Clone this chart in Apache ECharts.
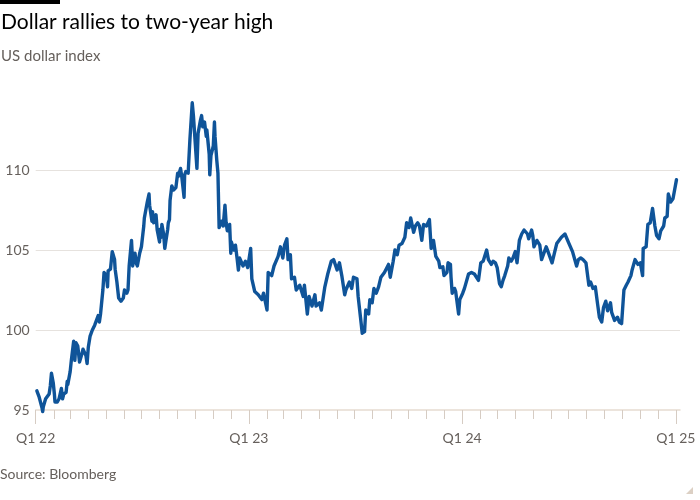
<!DOCTYPE html>
<html>
<head>
<meta charset="utf-8">
<script src="https://cdn.jsdelivr.net/npm/echarts@6/dist/echarts.min.js"></script>
<style>
html,body{margin:0;padding:0;background:#fff;}
#chart{width:700px;height:500px;}
</style>
</head>
<body>
<div id="chart"></div>
<script>
const dates = [
'2022-01-03','2022-01-05','2022-01-07','2022-01-10','2022-01-12','2022-01-13','2022-01-14','2022-01-18','2022-01-20','2022-01-24','2022-01-26','2022-01-28','2022-01-31',
'2022-02-02','2022-02-03','2022-02-07','2022-02-10','2022-02-14','2022-02-16','2022-02-18','2022-02-22','2022-02-24','2022-02-25',
'2022-03-01','2022-03-03','2022-03-07','2022-03-09','2022-03-11','2022-03-14','2022-03-17','2022-03-21','2022-03-23','2022-03-28','2022-03-30',
'2022-04-01','2022-04-04','2022-04-06','2022-04-08','2022-04-12','2022-04-14','2022-04-18','2022-04-20','2022-04-22','2022-04-26','2022-04-28',
'2022-05-02','2022-05-04','2022-05-05','2022-05-09','2022-05-12','2022-05-16','2022-05-17','2022-05-20','2022-05-23','2022-05-27','2022-05-31',
'2022-06-02','2022-06-06','2022-06-08','2022-06-10','2022-06-14','2022-06-15','2022-06-16','2022-06-20','2022-06-22','2022-06-24','2022-06-28',
'2022-07-01','2022-07-05','2022-07-06','2022-07-11','2022-07-14','2022-07-15','2022-07-19','2022-07-20','2022-07-22','2022-07-26','2022-07-28',
'2022-08-01','2022-08-02','2022-08-04','2022-08-05','2022-08-08','2022-08-10','2022-08-12','2022-08-15','2022-08-16','2022-08-18','2022-08-19','2022-08-22','2022-08-25','2022-08-29',
'2022-09-01','2022-09-02','2022-09-06','2022-09-08','2022-09-12','2022-09-13','2022-09-15','2022-09-19','2022-09-20','2022-09-22','2022-09-26','2022-09-27','2022-09-28','2022-09-30',
'2022-10-04','2022-10-06','2022-10-10','2022-10-12','2022-10-14','2022-10-17','2022-10-20','2022-10-21','2022-10-25','2022-10-26','2022-10-28',
'2022-11-01','2022-11-03','2022-11-04','2022-11-07','2022-11-09','2022-11-10','2022-11-11','2022-11-15','2022-11-18','2022-11-21','2022-11-23','2022-11-25','2022-11-29',
'2022-12-01','2022-12-02','2022-12-06','2022-12-09','2022-12-12','2022-12-14','2022-12-16','2022-12-19','2022-12-22','2022-12-26','2022-12-30',
'2023-01-04','2023-01-06','2023-01-11','2023-01-17','2023-01-23','2023-01-26','2023-02-01','2023-02-03','2023-02-09','2023-02-13','2023-02-20','2023-02-24','2023-02-28',
'2023-03-03','2023-03-07','2023-03-09','2023-03-13','2023-03-15','2023-03-20','2023-03-23','2023-03-29',
'2023-04-04','2023-04-06','2023-04-11','2023-04-14','2023-04-19','2023-04-24','2023-04-26',
'2023-05-02','2023-05-05','2023-05-11','2023-05-16','2023-05-22','2023-05-26','2023-06-01','2023-06-05','2023-06-09','2023-06-14','2023-06-16','2023-06-22','2023-06-26','2023-06-29',
'2023-07-05','2023-07-07','2023-07-11','2023-07-14','2023-07-18','2023-07-20','2023-07-25','2023-07-27','2023-07-31',
'2023-08-03','2023-08-07','2023-08-11','2023-08-15','2023-08-21','2023-08-24','2023-08-28','2023-08-31',
'2023-09-05','2023-09-08','2023-09-12','2023-09-15','2023-09-20','2023-09-25','2023-09-28',
'2023-10-02','2023-10-05','2023-10-10','2023-10-13','2023-10-17','2023-10-20','2023-10-24','2023-10-27',
'2023-11-01','2023-11-06','2023-11-09','2023-11-13','2023-11-17','2023-11-22','2023-11-24','2023-11-29',
'2023-12-01','2023-12-06','2023-12-08','2023-12-12','2023-12-13','2023-12-15','2023-12-19','2023-12-21','2023-12-26','2023-12-28',
'2024-01-02','2024-01-05','2024-01-08','2024-01-12','2024-01-17','2024-01-22','2024-01-25','2024-01-29',
'2024-02-02','2024-02-06','2024-02-09','2024-02-12','2024-02-15','2024-02-20','2024-02-23','2024-02-27',
'2024-03-01','2024-03-05','2024-03-08','2024-03-11','2024-03-14','2024-03-19','2024-03-21','2024-03-25','2024-03-28',
'2024-04-01','2024-04-04','2024-04-08','2024-04-10','2024-04-12','2024-04-16','2024-04-18','2024-04-22','2024-04-24','2024-04-29',
'2024-05-01','2024-05-03','2024-05-08','2024-05-13','2024-05-16','2024-05-20','2024-05-24','2024-05-28',
'2024-06-03','2024-06-07','2024-06-11','2024-06-14','2024-06-19','2024-06-25','2024-06-28',
'2024-07-02','2024-07-08','2024-07-11','2024-07-15','2024-07-18','2024-07-22','2024-07-26','2024-07-31',
'2024-08-05','2024-08-08','2024-08-12','2024-08-16','2024-08-20','2024-08-23','2024-08-27','2024-08-30',
'2024-09-03','2024-09-06','2024-09-11','2024-09-13','2024-09-18','2024-09-23','2024-09-26','2024-09-30',
'2024-10-04','2024-10-08','2024-10-11','2024-10-16','2024-10-18','2024-10-23','2024-10-28',
'2024-11-01','2024-11-05','2024-11-06','2024-11-11','2024-11-14','2024-11-18','2024-11-22','2024-11-26','2024-11-29',
'2024-12-03','2024-12-06','2024-12-11','2024-12-13','2024-12-17','2024-12-19','2024-12-23','2024-12-27','2024-12-30',
'2025-01-02'
];
const values = [
96.2,96.3,95.8,95.9,95.1,94.9,95.2,95.7,95.7,96.0,96.5,97.3,96.7,
96.0,95.5,95.5,95.7,96.35,95.7,96.0,96.1,96.8,96.6,
97.4,98.1,99.3,98.1,99.2,99.0,98.0,98.5,98.8,98.4,97.9,
98.9,99.6,99.8,100.0,100.3,100.3,100.9,100.5,101.0,102.5,103.6,
103.4,102.7,103.7,103.8,104.9,104.4,103.8,103.0,102.0,101.8,102.0,
102.5,102.3,102.5,104.0,105.6,104.9,104.0,104.8,104.2,104.0,104.8,
105.2,106.5,107.0,108.0,108.5,107.8,106.8,107.4,106.7,107.2,106.25,
105.5,106.3,105.8,106.6,106.0,105.1,105.6,106.3,106.7,106.9,108.1,109.0,108.75,108.9,
109.8,109.6,110.1,109.6,108.3,109.7,109.9,109.8,110.5,111.9,114.2,114.1,113.4,112.3,
110.1,112.3,113.1,113.4,112.7,113.0,112.1,112.5,111.0,109.7,110.9,
111.5,113.0,112.1,110.6,109.8,108.1,106.4,106.8,106.5,107.8,106.7,106.2,106.6,
104.8,105.5,105.0,105.3,104.4,103.75,104.5,104.5,104.0,104.3,103.9,
105.1,103.2,102.4,102.2,101.9,102.3,101.25,103.6,103.4,104.0,104.6,105.2,104.5,
105.3,105.7,104.4,104.7,103.2,103.3,102.5,102.8,
102.1,102.8,101.0,102.1,101.5,102.2,101.5,
101.7,101.25,102.7,103.5,104.3,104.4,103.75,104.2,103.4,102.2,102.5,103.0,102.6,103.3,
103.2,102.1,100.8,99.8,99.9,101.25,101.0,101.9,101.7,
102.6,102.3,102.7,103.3,103.6,103.5,104.1,103.3,
104.3,105.0,104.7,105.3,105.4,105.8,106.7,
106.4,107.0,106.1,106.5,106.7,106.5,105.6,106.6,
106.5,106.9,105.1,105.6,104.6,104.3,103.9,103.95,
103.4,103.6,104.2,104.1,103.3,102.3,102.6,102.4,101.0,101.9,
102.3,102.6,102.5,103.5,103.6,103.5,103.6,103.1,
104.2,104.3,104.4,105.0,104.4,104.1,104.3,104.2,
103.9,102.9,102.7,103.1,103.4,104.0,104.5,104.3,104.5,
104.9,104.2,105.6,105.7,106.0,106.25,106.2,106.0,105.7,106.25,
105.9,105.2,105.6,105.3,104.4,104.8,105.2,104.8,
104.2,104.8,105.4,105.4,105.8,106.0,105.9,
105.4,104.9,105.0,104.0,104.4,104.5,104.4,104.2,
102.8,103.0,102.6,102.7,101.6,100.8,100.5,101.4,
101.8,101.2,101.7,101.1,100.6,100.8,100.5,100.4,
102.5,102.8,103.0,103.4,103.75,104.4,104.1,
104.2,103.4,105.1,105.2,106.6,106.7,107.6,106.5,105.9,
105.7,106.2,106.5,107.0,107.1,108.5,108.0,108.2,108.1,
109.4
];
const yTicks = [95, 100, 105, 110];
const yearLabels = ['Q1 22', 'Q1 23', 'Q1 24', 'Q1 25'];
const years = [2022, 2023, 2024, 2025];

function toTime(s) {
  const p = s.split('-').map(Number);
  return new Date(p[0], p[1] - 1, p[2]).getTime();
}

const monthTicks = [];
for (let y = 2022; y <= 2025; y++) {
  for (let m = 0; m < 12; m++) {
    if (y === 2025 && m > 0) break;
    monthTicks.push(new Date(y, m, 1).getTime());
  }
}
const yearTicks = years.map(y => new Date(y, 0, 1).getTime());

const FONT = 'Lato';
const GREY = '#66605c';
const chart = echarts.init(document.getElementById('chart'), null, {renderer: 'canvas'});
const xMin = new Date(2022, 0, 1).getTime();
const xMax = new Date(2025, 0, 8).getTime();

chart.setOption({
  animation: false,
  backgroundColor: '#ffffff',
  textStyle: {fontFamily: FONT},
  grid: {left: 35.7, right: 20, top: 90, bottom: 90, containLabel: false},
  xAxis: [
    {
      type: 'value', min: xMin, max: xMax, position: 'bottom',
      axisLine: {show: true, lineStyle: {color: '#e6dbd1', width: 1.5}},
      axisTick: {show: true, length: 9, customValues: monthTicks, lineStyle: {color: '#d6ccc3', width: 1}},
      axisLabel: {show: false},
      splitLine: {show: false}
    },
    {
      type: 'value', min: xMin, max: xMax, position: 'bottom',
      axisLine: {show: false},
      axisTick: {show: true, length: 14, customValues: yearTicks, lineStyle: {color: '#d6ccc3', width: 1}},
      axisLabel: {
        show: true, customValues: yearTicks, margin: 21, color: GREY, fontSize: 14, fontFamily: FONT,
        formatter: function (v) { const i = yearTicks.indexOf(v); return i >= 0 ? yearLabels[i] : ''; }
      },
      splitLine: {show: false}
    }
  ],
  yAxis: {
    type: 'value', min: 95, max: 115, interval: 5,
    axisLine: {show: false}, axisTick: {show: false},
    axisLabel: {
      color: GREY, fontSize: 14, fontFamily: FONT, margin: 6, showMaxLabel: false,
      formatter: function (v) { return yTicks.indexOf(v) >= 0 ? String(v) : ''; }
    },
    splitLine: {show: true, showMinLine: false, showMaxLine: false, lineStyle: {color: '#e6e2de', width: 1}}
  },
  series: [{
    type: 'line', xAxisIndex: 0,
    data: dates.map((d, i) => [toTime(d), values[i]]),
    showSymbol: false, symbol: 'none',
    lineStyle: {color: '#0f5499', width: 3.4, join: 'round', cap: 'round'},
    clip: false
  }],
  graphic: [
    {type: 'rect', left: 0, top: 0, shape: {width: 60, height: 4}, style: {fill: '#000'}},
    {type: 'text', left: 1, top: 12, style: {text: 'Dollar rallies to two-year high', font: '21px ' + FONT, fill: '#000'}},
    {type: 'text', left: 1, top: 49, style: {text: 'US dollar index', font: '15px ' + FONT, fill: GREY}},
    {type: 'text', left: 0, top: 467, style: {text: 'Source: Bloomberg', font: '14px ' + FONT, fill: GREY}},
    {type: 'polygon', shape: {points: [[693, 487], [693, 494], [686, 494]]}, style: {fill: '#dcd0c4'}}
  ]
});
</script>
</body>
</html>
